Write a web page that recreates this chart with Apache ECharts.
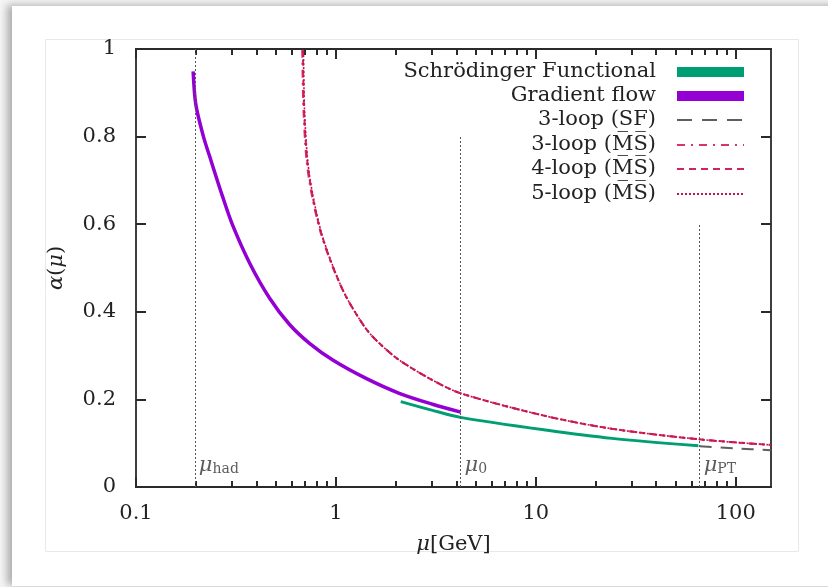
<!DOCTYPE html>
<html>
<head>
<meta charset="utf-8">
<script src="https://cdn.jsdelivr.net/npm/echarts@6/dist/echarts.min.js"></script>
<style>
  html, body { margin: 0; padding: 0; width: 828px; height: 587px; overflow: hidden; background: #fff; }
  #chart { position: absolute; left: 0; top: 0; width: 828px; height: 587px; background: #fff; }
</style>
</head>
<body>
<div id="chart"></div>
<script>
// Running coupling alpha(mu) versus scale mu (GeV)

// Schroedinger functional scheme (nonperturbative)
const sfMu    = [2.11, 3.04, 4.2, 11.2, 24.0, 65];
const sfAlpha = [0.195, 0.175, 0.159, 0.130, 0.111, 0.094];

// Gradient flow scheme
const gfMu    = [0.1931, 0.1992, 0.2171, 0.2320, 0.2706, 0.3035, 0.3704, 0.4660, 0.5862, 0.7378, 0.9639, 1.415, 2.074, 3.040, 4.211];
const gfAlpha = [0.949, 0.873, 0.801, 0.759, 0.664, 0.599, 0.511, 0.431, 0.371, 0.328, 0.290, 0.248, 0.214, 0.189, 0.171];

// 3-loop perturbative running in the SF scheme
const sf3Mu    = [66, 100, 150];
const sf3Alpha = [0.093, 0.088, 0.084];

// Perturbative running in the MSbar scheme
const ms3Mu    = [0.678, 0.688, 0.713, 0.757, 0.836, 0.958, 1.12, 1.41, 1.65, 2.07, 3.04, 4.2, 11.2, 24.0, 65, 150];
const ms3Alpha = [0.998, 0.860, 0.745, 0.667, 0.583, 0.505, 0.436, 0.362, 0.328, 0.290, 0.244, 0.214, 0.162, 0.133, 0.109, 0.096];
const ms4Mu    = [0.684, 0.693, 0.719, 0.762, 0.840, 0.962, 1.12, 1.41, 1.65, 2.07, 3.04, 4.2, 11.2, 24.0, 65, 150];
const ms4Alpha = [0.998, 0.860, 0.744, 0.667, 0.583, 0.505, 0.436, 0.362, 0.328, 0.290, 0.244, 0.214, 0.162, 0.133, 0.109, 0.096];
const ms5Mu    = [0.688, 0.697, 0.723, 0.766, 0.843, 0.964, 1.12, 1.41, 1.65, 2.07, 3.04, 4.2, 11.2, 24.0, 65, 150];
const ms5Alpha = [0.995, 0.857, 0.743, 0.667, 0.583, 0.505, 0.436, 0.362, 0.328, 0.290, 0.244, 0.214, 0.162, 0.133, 0.109, 0.096];

// Reference scales: hadronic, matching and perturbative switch
const scaleSub = ['had', '0', 'PT'];
const scaleMu  = [0.197, 4.2, 66];
const scaleTop = [1.0, 0.8, 0.6];
const scaleLabelAlpha = 0.05;

// Axis ticks
const xTickValues = [0.1, 1, 10, 100];
const xTickText   = ['0.1', '1', '10', '100'];
const xMinorTicks = [0.2, 0.3, 0.4, 0.5, 0.6, 0.7, 0.8, 0.9, 2, 3, 4, 5, 6, 7, 8, 9, 20, 30, 40, 50, 60, 70, 80, 90];
const yTickValues = [0, 0.2, 0.4, 0.6, 0.8, 1];
const yTickText   = ['0', '0.2', '0.4', '0.6', '0.8', '1'];
const X_MIN = 0.1, X_MAX = 150, Y_MIN = 0, Y_MAX = 1;

const seriesNames = ['Schrödinger Functional', 'Gradient flow', '3-loop (SF)', '3-loop (MS)', '4-loop (MS)', '5-loop (MS)'];

const FONT = '"DejaVu Serif", "Liberation Serif", serif';
const FS = 21;
const AXIS = '#2a2a2a';
const C_SF = '#009e73', C_GF = '#9400d3', C_SF3 = '#5e5e5e';
const C_MS3 = '#d8346a', C_MS4 = '#d0245c', C_MS5 = '#c4124a';

const pairs = (xs, ys) => xs.map((x, i) => [x, ys[i]]);
const nearest = (vals, v, log) => {
  let best = 0, bd = Infinity;
  vals.forEach((t, i) => {
    const d = log ? Math.abs(Math.log10(t) - Math.log10(v)) : Math.abs(t - v);
    if (d < bd) { bd = d; best = i; }
  });
  return best;
};

const chart = echarts.init(document.getElementById('chart'), null, { renderer: 'canvas' });

function xAxisDef(position, ticks, len, withLabels) {
  return {
    type: 'log', logBase: 10, min: X_MIN, max: X_MAX, gridIndex: 0, position,
    splitLine: { show: false },
    axisLine: { show: true, onZero: false, lineStyle: { color: AXIS, width: 1.8 } },
    axisTick: { show: true, inside: true, length: len, customValues: ticks, lineStyle: { color: AXIS, width: 2 } },
    axisLabel: withLabels ? {
      show: true, customValues: xTickValues, margin: 16, color: '#222', fontFamily: FONT, fontSize: FS,
      formatter: v => xTickText[nearest(xTickValues, v, true)]
    } : { show: false },
    name: withLabels ? '{m|μ}{t|[GeV]}' : '',
    nameLocation: 'middle', nameGap: 47,
    nameTextStyle: { rich: {
      m: { fontFamily: FONT, fontStyle: 'italic', fontSize: FS, color: '#222' },
      t: { fontFamily: FONT, fontSize: FS, color: '#222' } } }
  };
}

function yAxisDef(position, withLabels) {
  return {
    type: 'value', min: Y_MIN, max: Y_MAX, interval: 0.2, position, gridIndex: 0,
    splitLine: { show: false },
    axisLine: { show: true, onZero: false, lineStyle: { color: AXIS, width: 1.8 } },
    axisTick: { show: true, inside: true, length: 10, lineStyle: { color: AXIS, width: 2 } },
    axisLabel: withLabels ? {
      show: true, margin: 20, color: '#222', fontFamily: FONT, fontSize: FS,
      formatter: v => yTickText[nearest(yTickValues, v, false)]
    } : { show: false },
    name: withLabels ? '{m|α}{t|(}{m|μ}{t|)}' : '',
    nameLocation: 'middle', nameGap: 69, nameRotate: 90,
    nameTextStyle: { rich: {
      m: { fontFamily: FONT, fontStyle: 'italic', fontSize: FS, color: '#222' },
      t: { fontFamily: FONT, fontSize: FS, color: '#222' } } }
  };
}

function curve(name, xs, ys, color, width, dash, z) {
  return {
    name, type: 'line', xAxisIndex: 0, yAxisIndex: 0,
    data: pairs(xs, ys), showSymbol: false, symbol: 'none', smooth: 0.3,
    lineStyle: { color, width, type: dash || 'solid', cap: 'butt' },
    itemStyle: { color }, z: z || 2, silent: true
  };
}

// Vertical markers for the reference scales
const refLines = {
  name: 'scales', type: 'line', xAxisIndex: 0, yAxisIndex: 0, data: [], silent: true,
  markLine: {
    symbol: ['none', 'none'], silent: true, label: { show: false },
    lineStyle: { color: '#555', width: 1, type: [2, 2] },
    data: scaleMu.map((m, i) => [{ coord: [m, 0] }, { coord: [m, scaleTop[i]] }])
  }
};

const scaleLabels = {
  name: 'scale labels', type: 'scatter', xAxisIndex: 0, yAxisIndex: 0, silent: true,
  symbolSize: 0,
  data: scaleMu.map((m, i) => ({ value: [m, scaleLabelAlpha], sub: scaleSub[i] })),
  label: {
    show: true, position: 'right', distance: 4,
    formatter: p => '{m|μ}{s|' + p.data.sub + '}',
    rich: {
      m: { fontFamily: FONT, fontStyle: 'italic', fontSize: FS, color: '#333' },
      s: { fontFamily: FONT, fontSize: 14, color: '#333', padding: [9, 0, 0, 0] }
    }
  }
};

// Page card with a soft shadow and a faint inner frame, behind everything
const decoGraphics = [
  { type: 'rect', silent: true, z: -20, shape: { x: 0, y: 0, width: 828, height: 587 }, style: { fill: '#f6f6f6' } },
  { type: 'rect', silent: true, z: -19, shape: { x: 12, y: 6, width: 840, height: 580 },
    style: { fill: '#ffffff', shadowBlur: 8, shadowColor: 'rgba(0,0,0,0.30)', shadowOffsetX: -5, shadowOffsetY: -1 } },
  { type: 'rect', silent: true, z: -18, shape: { x: 45.5, y: 39.5, width: 753, height: 512 },
    style: { fill: 'none', stroke: '#e8e8e8', lineWidth: 1 } }
];

// Key, drawn as text on the left and a line sample on the right
const keyRowY = [72, 96, 120, 145, 169, 194];
const keyText = ['Schrödinger Functional', 'Gradient flow', '3-loop (SF)', '3-loop (M\u0305S\u0305)', '4-loop (M\u0305S\u0305)', '5-loop (M\u0305S\u0305)'];
const keyStyle = [
  { color: C_SF, bar: true }, { color: C_GF, bar: true },
  { color: C_SF3, dash: [15, 10] }, { color: C_MS3, dash: [8, 6, 2, 6] },
  { color: C_MS4, dash: [7, 5] }, { color: C_MS5, dash: [2, 2] }
];
const keyGraphics = [];
keyText.forEach((t, i) => {
  keyGraphics.push({ type: 'text', x: 656, y: keyRowY[i], silent: true,
    style: { text: t, fill: '#222', font: FS + 'px ' + FONT, align: 'right', verticalAlign: 'middle' } });
  const s = keyStyle[i];
  if (s.bar) {
    keyGraphics.push({ type: 'rect', silent: true, shape: { x: 677, y: keyRowY[i] - 5, width: 67, height: 10 },
      style: { fill: s.color } });
  } else {
    keyGraphics.push({ type: 'line', silent: true, shape: { x1: 677, y1: keyRowY[i], x2: 744, y2: keyRowY[i] },
      style: { stroke: s.color, lineWidth: 2, lineDash: s.dash } });
  }
});

chart.setOption({
  animation: false,
  backgroundColor: '#ffffff',
  grid: { left: 136, right: 57, top: 49, bottom: 100, containLabel: false },
  xAxis: [
    xAxisDef('bottom', xTickValues, 10, true),
    xAxisDef('bottom', xMinorTicks, 6, false),
    xAxisDef('top', xTickValues, 10, false),
    xAxisDef('top', xMinorTicks, 6, false)
  ],
  yAxis: [yAxisDef('left', true), yAxisDef('right', false)],
  graphic: decoGraphics.concat(keyGraphics),
  series: [
    refLines,
    scaleLabels,
    curve(seriesNames[2], sf3Mu, sf3Alpha, C_SF3, 2, [12, 9], 3),
    curve(seriesNames[0], sfMu, sfAlpha, C_SF, 3, null, 4),
    curve(seriesNames[1], gfMu, gfAlpha, C_GF, 3.5, null, 4),
    curve(seriesNames[3], ms3Mu, ms3Alpha, C_MS3, 2, [8, 5, 2, 5], 5),
    curve(seriesNames[4], ms4Mu, ms4Alpha, C_MS4, 2, [6, 4], 5),
    curve(seriesNames[5], ms5Mu, ms5Alpha, C_MS5, 1.6, [2, 2], 6)
  ]
});
</script>
</body>
</html>
